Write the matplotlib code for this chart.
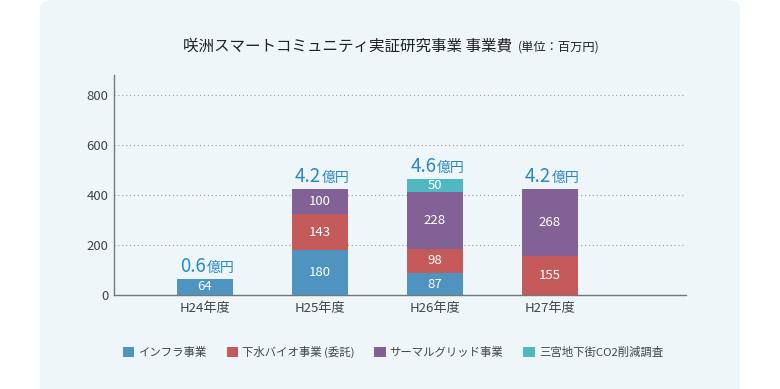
import numpy as np
import matplotlib.pyplot as plt
from matplotlib.patches import FancyBboxPatch

plt.rcParams['font.family'] = ['Noto Sans CJK JP', 'DejaVu Sans']

years = ['H24年度', 'H25年度', 'H26年度', 'H27年度']
series = ['インフラ事業', '下水バイオ事業 (委託)', 'サーマルグリッド事業', '三宮地下街CO2削減調査']
infra = [64, 180, 87, 0]
sewage = [0, 143, 98, 155]
thermal = [0, 100, 228, 268]
sannomiya = [0, 0, 50, 0]
totals = ['0.6', '4.2', '4.6', '4.2']
colors = ['#4f93c0', '#c45a5a', '#826296', '#4fb8c0']

fig = plt.figure(figsize=(7.8, 3.89), dpi=100)
fig.patch.set_facecolor('white')
bgc = '#eef6fa'
fig.patches.append(FancyBboxPatch((40 / 780, -0.05), 700 / 780, 1.05,
                                  boxstyle='round,pad=0,rounding_size=0.02',
                                  transform=fig.transFigure, fc=bgc, ec='none', zorder=-5))

ax = fig.add_axes([114 / 780, 1 - 295 / 389, 572 / 780, 220 / 389])
ax.set_facecolor('none')
x = np.arange(len(years))
w = 0.487
bottom = np.zeros(len(years))
for vals, c, name in zip([infra, sewage, thermal, sannomiya], colors, series):
    vals = np.array(vals, dtype=float)
    ax.bar(x, vals, w, bottom=bottom, color=c, label=name, zorder=3)
    for xi, v, b in zip(x, vals, bottom):
        if v > 0:
            ax.text(xi, b + v / 2, f'{int(v)}', ha='center', va='center',
                    color='white', fontsize=9.5, zorder=4)
    bottom += vals

for xi, top, t in zip(x, bottom, totals):
    ax.annotate(t, (xi, top), xytext=(1, 5), textcoords='offset points',
                ha='right', va='baseline', color='#2b87c8', fontsize=13.5)
    ax.annotate('億円', (xi, top), xytext=(1, 5), textcoords='offset points',
                ha='left', va='baseline', color='#2b87c8', fontsize=10)

ax.set_xlim(-0.791, 4.183)
ax.set_ylim(0, 880)
ax.set_yticks([0, 200, 400, 600, 800])
ax.set_xticks(x)
ax.set_xticklabels(years)
ax.tick_params(length=0, labelsize=9.5, colors='#444444', pad=5)
ax.tick_params(axis='y', pad=4)
ax.yaxis.grid(True, linestyle=(0, (1, 2.5)), color='#999999', linewidth=0.8, zorder=0)
for s in ['top', 'right']:
    ax.spines[s].set_visible(False)
for s in ['left', 'bottom']:
    ax.spines[s].set_color('#777777')
    ax.spines[s].set_linewidth(1)

fig.text(512 / 780, 1 - 46 / 389, '咲洲スマートコミュニティ実証研究事業 事業費', ha='right', va='center',
         fontsize=11.2, color='#222222')
fig.text(518 / 780, 1 - 47 / 389, '(単位：百万円)', ha='left', va='center',
         fontsize=8.8, color='#222222')

fig.legend(loc='center', bbox_to_anchor=(393 / 780, 1 - 352 / 389), ncol=4, frameon=False,
           fontsize=8.2, handlelength=1.0, handleheight=1.0, handletextpad=0.35,
           columnspacing=1.75, labelcolor='#444444')

fig.savefig('out.png', dpi=100, facecolor=fig.get_facecolor())
